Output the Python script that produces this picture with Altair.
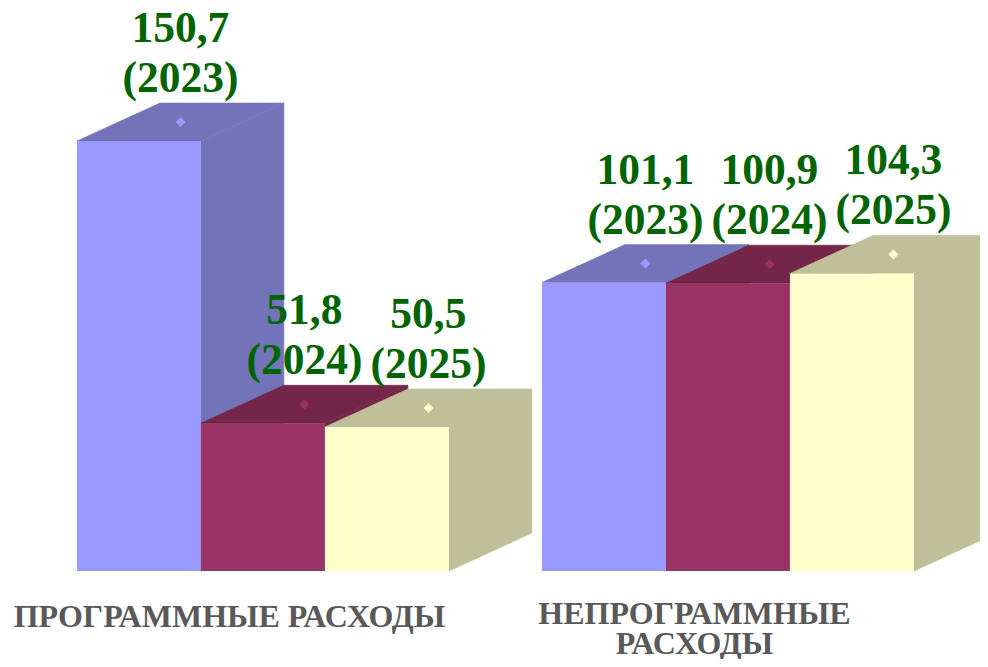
import altair as alt
import pandas as pd

# Chart values
years = ["2023", "2024", "2025"]
values = [[150.7, 51.8, 50.5], [101.1, 100.9, 104.3]]
labels = [["150,7", "51,8", "50,5"], ["101,1", "100,9", "104,3"]]
group_lines = [["ПРОГРАММНЫЕ РАСХОДЫ"], ["НЕПРОГРАММНЫЕ", "РАСХОДЫ"]]
group_line_dy = [[56], [53, 83]]

front_colors = ["#9999FF", "#993366", "#FFFFCC"]
top_colors = ["#7373B9", "#732647", "#BFBF99"]
side_colors = ["#7373B9", "#732647", "#BFBF99"]

# Layout in scale units (bar width = 1 x-unit)
group_starts = [0.556, 4.306]
depth_x = 0.669
depth_y = 13.3
W, H = 972, 651
X_MAX = W / 124
Y_BASE_PX = 563
PX_PER_UNIT = 2.853
Y_MIN, Y_MAX = -(H - Y_BASE_PX) / PX_PER_UNIT, Y_BASE_PX / PX_PER_UNIT

x_scale = alt.Scale(domain=[0, X_MAX], range=[0, W], nice=False, zero=False)
y_scale = alt.Scale(domain=[Y_MIN, Y_MAX], range=[H, 0], nice=False, zero=False)
X = lambda f: alt.X(f, type="quantitative", scale=x_scale, axis=None)
Y = lambda f: alt.Y(f, type="quantitative", scale=y_scale, axis=None)

layers = []
for g, start in enumerate(group_starts):
    for i, v in enumerate(values[g]):
        x0, x1 = start + i, start + i + 1
        side = pd.DataFrame({"x": [x1, x1 + depth_x],
                             "y": [v, v + depth_y],
                             "y2": [0, depth_y]})
        layers.append(alt.Chart(side).mark_area(color=side_colors[i], clip=True, orient="vertical",
                                                stroke=side_colors[i], strokeWidth=0.6)
                      .encode(x=X("x"), y=Y("y"), y2="y2"))
        top = pd.DataFrame({"y": [v, v + depth_y],
                            "xa": [x0, x0 + depth_x],
                            "xb": [x1, x1 + depth_x]})
        layers.append(alt.Chart(top).mark_area(color=top_colors[i], clip=True, orient="horizontal",
                                               stroke=top_colors[i], strokeWidth=0.6)
                      .encode(y=Y("y"), x=X("xa"), x2="xb"))
        front = pd.DataFrame({"x": [x0], "x2": [x1], "y": [v], "y2": [0]})
        layers.append(alt.Chart(front).mark_bar(color=front_colors[i], clip=True)
                      .encode(x=X("x"), x2="x2", y=Y("y"), y2="y2"))
        dot = pd.DataFrame({"x": [x0 + 0.5 + depth_x / 2], "y": [v + depth_y / 2]})
        layers.append(alt.Chart(dot).mark_point(shape="diamond", filled=True, size=100, opacity=1,
                                                color=front_colors[i])
                      .encode(x=X("x"), y=Y("y")))

text_rows = []
for g, start in enumerate(group_starts):
    for i, v in enumerate(values[g]):
        text_rows.append({"x": start + i + 0.5 + depth_x / 2, "y": v,
                          "num": labels[g][i], "year": f"({years[i]})"})
text_df = pd.DataFrame(text_rows)
val_font = dict(font="Liberation Serif", fontWeight="bold", fontSize=43.5,
                color="#006400", align="center", baseline="alphabetic")
layers.append(alt.Chart(text_df).mark_text(dy=-99, **val_font)
              .encode(x=X("x"), y=Y("y"), text="num:N"))
layers.append(alt.Chart(text_df).mark_text(dy=-49, **val_font)
              .encode(x=X("x"), y=Y("y"), text="year:N"))

cat_font = dict(font="Liberation Serif", fontWeight="bold", fontSize=32,
                color="#595959", align="center", baseline="alphabetic")
for g, start in enumerate(group_starts):
    for k, line in enumerate(group_lines[g]):
        row = pd.DataFrame({"x": [start + 1.5 - 0.27], "y": [0], "t": [line]})
        layers.append(alt.Chart(row).mark_text(dy=group_line_dy[g][k], **cat_font)
                      .encode(x=X("x"), y=Y("y"), text="t:N"))

chart = alt.layer(*layers).properties(
    width=W, height=H, padding=0, background="white",
    autosize=alt.AutoSizeParams(type="none"),
).configure_view(stroke=None)

chart.save("out.html", embed_options={"renderer": "svg", "actions": False})
